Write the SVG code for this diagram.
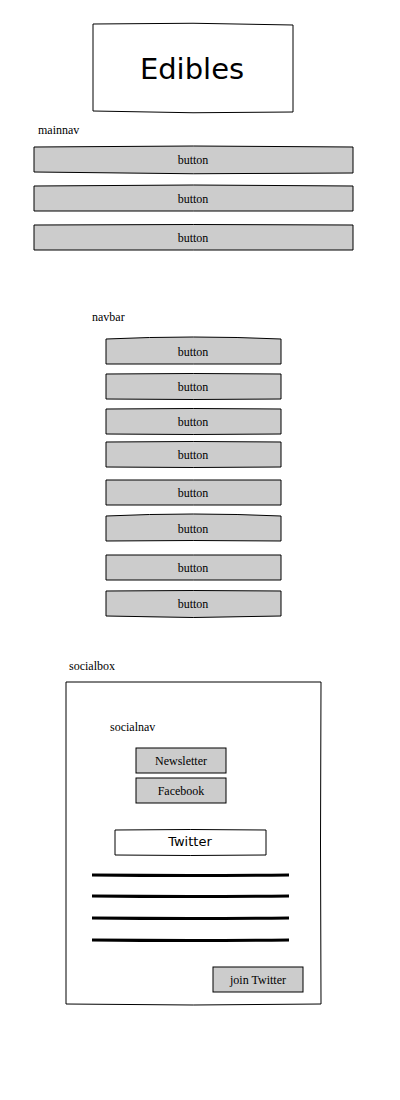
<svg xmlns="http://www.w3.org/2000/svg" width="400" height="1100" viewBox="0 0 400 1100">
<style>
.btn{fill:#cccccc;stroke:#000;stroke-width:1}
.box{fill:#fff;stroke:#000;stroke-width:1}
.lbl{font-family:"Liberation Serif",serif;font-size:12px;fill:#000}
.bt{font-family:"Liberation Serif",serif;font-size:12px;fill:#000;text-anchor:middle}
.sans{font-family:"DejaVu Sans",sans-serif;fill:#000;text-anchor:middle}
.line{stroke:#000;stroke-width:3;fill:none}
</style>
<rect width="400" height="1100" fill="#fff"/>
<g id="header">
<path class="box" d="M93 24 Q193 22 293 25 L293 112 Q193 114 93 111 Z"/>
<text class="sans" x="192" y="79" font-size="29">Edibles</text>
</g>
<g id="mainnav">
<text class="lbl" x="38" y="134">mainnav</text>
<g id="mainnav-b1"><path class="btn" d="M34 147 Q193 145 353 147 L353 173 Q193 175 34 172 Z"/><text class="bt" x="193" y="164">button</text></g>
<g id="mainnav-b2"><path class="btn" d="M34 186 Q193 184 353 186 L353 211 Q193 211 34 211 Z"/><text class="bt" x="193" y="203">button</text></g>
<g id="mainnav-b3"><path class="btn" d="M34 225 Q193 224 353 225 L353 250 Q193 250 34 250 Z"/><text class="bt" x="193" y="242">button</text></g>
</g>
<g id="navbar">
<text class="lbl" x="92" y="321">navbar</text>
<g id="navbar-b1"><path class="btn" d="M106 339 Q193 335 281 339 L281 364 Q193 364 106 364 Z"/><text class="bt" x="193" y="356">button</text></g>
<g id="navbar-b2"><path class="btn" d="M106 374 Q193 373 281 374 L281 399 Q193 400 106 399 Z"/><text class="bt" x="193" y="391">button</text></g>
<g id="navbar-b3"><path class="btn" d="M106 409 Q193 408 281 409 L281 434 Q193 435 106 434 Z"/><text class="bt" x="193" y="426">button</text></g>
<g id="navbar-b4"><path class="btn" d="M106 442 Q193 441 281 442 L281 467 Q193 468 106 467 Z"/><text class="bt" x="193" y="459">button</text></g>
<g id="navbar-b5"><path class="btn" d="M106 480 Q193 480 281 480 L281 505 Q193 505 106 505 Z"/><text class="bt" x="193" y="497">button</text></g>
<g id="navbar-b6"><path class="btn" d="M106 516 Q193 512 281 516 L281 541 Q193 540 106 541 Z"/><text class="bt" x="193" y="533">button</text></g>
<g id="navbar-b7"><path class="btn" d="M106 555 Q193 555 281 555 L281 580 Q193 580 106 580 Z"/><text class="bt" x="193" y="572">button</text></g>
<g id="navbar-b8"><path class="btn" d="M106 591 Q193 590 281 591 L281 616 Q193 619 106 616 Z"/><text class="bt" x="193" y="608">button</text></g>
</g>
<g id="socialbox">
<text class="lbl" x="69" y="670">socialbox</text>
<path class="box" d="M66 682 L321 682 Q320 843 321 1004 Q193 1006 66 1004 Z"/>
<g id="socialnav">
<text class="lbl" x="110" y="731">socialnav</text>
<g id="newsletter"><rect class="btn" x="136" y="748" width="90" height="25"/><text class="bt" x="181" y="765">Newsletter</text></g>
<g id="facebook"><rect class="btn" x="136" y="778" width="90" height="25"/><text class="bt" x="181" y="795">Facebook</text></g>
</g>
<g id="twitter">
<path class="box" d="M115 830 Q190 829 266 830 L266 855 Q190 856 115 855 Z"/>
<text class="sans" x="190" y="846" font-size="13">Twitter</text>
</g>
<g id="feed">
<path class="line" d="M92 875 Q190 876 289 875"/>
<path class="line" d="M92 896 Q190 897 289 896"/>
<path class="line" d="M92 918 Q190 919 289 918"/>
<path class="line" d="M92 940 Q190 941 289 940"/>
</g>
<g id="join-twitter"><rect class="btn" x="213" y="967" width="90" height="25"/><text class="bt" x="258" y="984">join Twitter</text></g>
</g>
</svg>
